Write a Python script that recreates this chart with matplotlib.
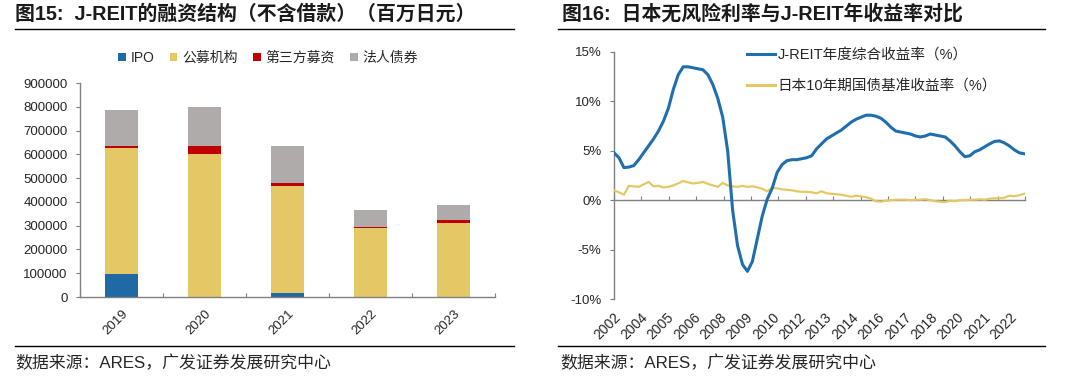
import matplotlib
matplotlib.use("Agg")
import matplotlib.pyplot as plt
import numpy as np
import pandas as pd
from matplotlib.lines import Line2D
from matplotlib.patches import Patch

plt.rcParams['font.family'] = ['Liberation Sans', 'Noto Sans CJK SC']
plt.rcParams['axes.unicode_minus'] = False

# ---------------- data: left chart ----------------
years = ['2019', '2020', '2021', '2022', '2023']
ipo = [97000, 0, 17000, 0, 0]
public_offer = [531000, 600000, 449000, 290000, 311000]
third_party = [9000, 33000, 15000, 4000, 12000]
corp_bond = [148000, 164000, 155000, 70000, 64000]
bar_labels = ['IPO', '公募机构', '第三方募资', '法人债券']
bar_colors = ['#1F6AA5', '#E5C866', '#C00000', '#AFABAB']
y_ticks_left = [0, 100000, 200000, 300000, 400000, 500000, 600000, 700000, 800000, 900000]

# ---------------- data: right chart (quarterly samples) ----------------
dates = pd.date_range('2002-12-01', periods=84, freq='3MS')
jreit_return = [4.8, 4.3, 3.3, 3.35, 3.5, 4.1, 4.8, 5.5, 6.2, 7.0,
                8.0, 9.3, 11.2, 12.7, 13.5, 13.5, 13.4, 13.3, 13.2, 12.7,
                11.7, 10.3, 8.4, 5.0, -1.0, -4.6, -6.5, -7.2, -6.2, -3.9,
                -1.6, 0.1, 1.2, 2.8, 3.6, 4.0, 4.1, 4.1, 4.2, 4.3,
                4.5, 5.2, 5.7, 6.2, 6.5, 6.8, 7.1, 7.5, 7.9, 8.2,
                8.4, 8.6, 8.6, 8.5, 8.3, 7.9, 7.4, 7.0, 6.9, 6.8,
                6.7, 6.5, 6.4, 6.5, 6.7, 6.6, 6.5, 6.4, 6.0, 5.5,
                4.9, 4.4, 4.5, 4.9, 5.1, 5.4, 5.7, 5.95, 6.0, 5.8,
                5.5, 5.1, 4.8, 4.7]
jgb10y = [1.0, 0.8, 0.55, 1.45, 1.4, 1.35, 1.6, 1.85, 1.4, 1.45,
          1.3, 1.35, 1.5, 1.7, 1.95, 1.8, 1.7, 1.75, 1.85, 1.65,
          1.5, 1.35, 1.75, 1.5, 1.4, 1.35, 1.45, 1.35, 1.4, 1.3,
          1.15, 0.9, 1.25, 1.2, 1.1, 1.05, 1.0, 0.9, 0.85, 0.85,
          0.8, 0.7, 0.9, 0.7, 0.65, 0.6, 0.55, 0.45, 0.35, 0.45,
          0.4, 0.3, 0.15, -0.1, -0.15, -0.05, 0.0, 0.05, 0.05, 0.05,
          0.0, 0.05, 0.05, 0.1, 0.0, -0.1, -0.15, -0.2, -0.05, -0.1,
          0.0, 0.0, 0.05, 0.05, 0.1, 0.05, 0.15, 0.2, 0.2, 0.25,
          0.45, 0.4, 0.5, 0.65]
line_labels = ['J-REIT年度综合收益率（%）', '日本10年期国债基准收益率（%）']
line_colors = ['#1F6EAE', '#E5C866']
y_ticks_right = [-10, -5, 0, 5, 10, 15]
label_every = 16  # months between category labels

W, H = 1080, 378
fig = plt.figure(figsize=(W / 100, H / 100), dpi=100)

def fx(px):
    return px / W

def fy(py):
    return 1 - py / H

grey = '#808080'
txt = '#262626'

# ---------------- headers / footers ----------------
fig.text(fx(15), fy(14), '图15:  J-REIT的融资结构（不含借款）（百万日元）', fontsize=14.3,
         fontweight='bold', va='center', ha='left', color='#1a1a1a')
fig.text(fx(562), fy(14), '图16:  日本无风险利率与J-REIT年收益率对比', fontsize=14.3,
         fontweight='bold', va='center', ha='left', color='#1a1a1a')
fig.add_artist(Line2D([fx(15), fx(514)], [fy(29), fy(29)], color='black', lw=1.0))
fig.add_artist(Line2D([fx(558), fx(1045)], [fy(29), fy(29)], color='black', lw=1.0))
fig.add_artist(Line2D([fx(15), fx(514)], [fy(346), fy(346)], color='black', lw=1.0))
fig.add_artist(Line2D([fx(558), fx(1045)], [fy(346), fy(346)], color='black', lw=1.0))
fig.text(fx(15), fy(363), '数据来源：ARES，广发证券发展研究中心', fontsize=12.2, va='center', ha='left', color=txt)
fig.text(fx(560), fy(363), '数据来源：ARES，广发证券发展研究中心', fontsize=12.2, va='center', ha='left', color=txt)

# ---------------- left chart ----------------
ax1 = fig.add_axes([fx(80), fy(297), fx(495) - fx(80), fy(83) - fy(297)])
x = np.arange(len(years))
bottom = np.zeros(len(years))
width = 0.40
handles = []
for vals, col, lab in zip([ipo, public_offer, third_party, corp_bond], bar_colors, bar_labels):
    ax1.bar(x, vals, width, bottom=bottom, color=col, linewidth=0, label=lab)
    bottom = bottom + np.array(vals)
    handles.append(Patch(facecolor=col, edgecolor='none', label=lab))

ax1.set_xlim(-0.5, len(years) - 0.5)
ax1.set_ylim(0, 900000)
ax1.set_yticks(y_ticks_left)
ax1.set_yticklabels([str(v) for v in y_ticks_left])
ax1.set_xticks(x)
ax1.set_xticklabels(years, rotation=45, ha='right', va='top', rotation_mode='anchor')
ax1.set_xticks(np.arange(-0.5, len(years), 1.0), minor=True)
ax1.tick_params(axis='x', which='major', length=0, pad=8, labelsize=9.5, labelcolor=txt)
ax1.tick_params(axis='x', which='minor', length=3, direction='in', color=grey, width=0.8)
ax1.tick_params(axis='y', length=3, direction='out', color=grey, width=0.8, labelsize=9.5,
                labelcolor=txt, pad=6)
for s in ['top', 'right']:
    ax1.spines[s].set_visible(False)
for s in ['left', 'bottom']:
    ax1.spines[s].set_color(grey)
    ax1.spines[s].set_linewidth(1.0)

fig.legend(handles=handles, loc='center', bbox_to_anchor=(fx(268), fy(58)), ncol=4,
           frameon=False, fontsize=10, handlelength=0.55, handleheight=0.55,
           handletextpad=0.35, columnspacing=1.1, borderpad=0, labelcolor=txt)

# ---------------- right chart ----------------
ax2 = fig.add_axes([fx(614), fy(299), fx(1025) - fx(614), fy(52) - fy(299)])
months = np.array([(d.year - 2002) * 12 + d.month - 12 for d in dates])
xmax = months[-1] + 0.5
ax2.plot(months, jgb10y, color=line_colors[1], lw=1.6, label=line_labels[1], zorder=3)
ax2.plot(months, jreit_return, color=line_colors[0], lw=2.2, label=line_labels[0], zorder=4)
ax2.set_xlim(0, xmax)
ax2.set_ylim(-10, 15)
ax2.set_yticks(y_ticks_right)
ax2.set_yticklabels([f'{v}%' for v in y_ticks_right])
label_pos = np.arange(0, months[-1] - 8, label_every)
label_txt = [str((pd.Timestamp('2002-12-01') + pd.DateOffset(months=int(m))).year) for m in label_pos]
ax2.set_xticks(label_pos)
ax2.set_xticklabels(label_txt, rotation=45, ha='right', va='top', rotation_mode='anchor')
ax2.tick_params(axis='x', length=0, pad=8, labelsize=10, labelcolor=txt)
ax2.tick_params(axis='y', length=3, direction='out', color=grey, width=0.8, labelsize=9.5,
                labelcolor=txt, pad=6)
for s in ['top', 'right', 'bottom']:
    ax2.spines[s].set_visible(False)
ax2.spines['left'].set_color(grey)
ax2.spines['left'].set_linewidth(1.0)

zero_loc = (0 - (-10)) / 25.0
sec = ax2.secondary_xaxis(zero_loc)
sec.set_xticks(np.linspace(0, xmax, 16))
sec.tick_params(axis='x', length=3, direction='in', color=grey, width=0.8, labelbottom=False,
                labeltop=False)
sec.spines['bottom'].set_color(grey)
sec.spines['bottom'].set_linewidth(1.0)
sec.set_zorder(1)

h1 = Line2D([], [], color=line_colors[0], lw=2.2)
h2 = Line2D([], [], color=line_colors[1], lw=2.2)
ax2.legend([h1, h2], [line_labels[0], line_labels[1]], loc='upper left',
           bbox_to_anchor=((747 - 614) / 411, (299 - 48) / 247), borderaxespad=0, borderpad=0,
           frameon=False, fontsize=10.5, handlelength=1.9, handletextpad=0.2, labelspacing=1.15,
           labelcolor=txt)

fig.savefig('out.png', dpi=100)
